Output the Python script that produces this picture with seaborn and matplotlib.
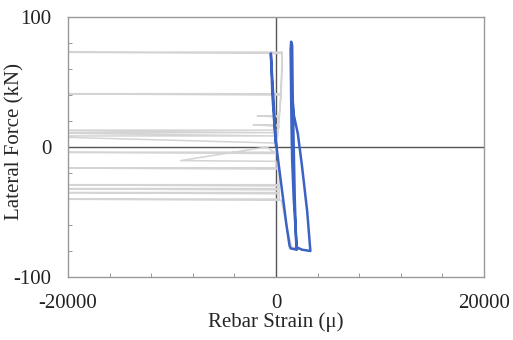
import numpy as np
import pandas as pd
import matplotlib.pyplot as plt
import seaborn as sns
from matplotlib.ticker import MultipleLocator

# Blue gauge: hysteresis path (strain in micro, force in kN)
blue_strain = [0, -200, -450, -500, -350, -100, 200, 600, 1000, 1300, 1400, 2000,
               1700, 1550, 1500, 1450, 1400, 1450, 1550, 1600, 1700, 1800, 1950,
               2500, 3300, 3000, 2500, 2100, 1700, 1550]
blue_force = [0, 30, 65, 72, 40, 10, -10, -35, -60, -76, -78, -79,
              -40, -10, 10, 40, 75, 81, 78, 40, 0, -40, -77,
              -79, -80, -50, -15, 10, 25, 40]

# Gray gauge: readings that jump off-scale to the left
gray_strain = [0, 300, 500, 600, -25000, 600, 500, -25000, 500, 300, -1800, 300,
               200, -2200, 300, 200, -25000, 200, -25000, 200, -25000, 100,
               0, -25000, 0, -900, -9200, 0, 0, -25000, 300, 300, -25000, 300,
               300, -25000, 300, 300, -25000, 300, 300, -25000, 500, 1000, 1500, 2500]
gray_force = [0, 20, 50, 73, 73, 72, 41, 41, 40, 24, 24, 23,
              17, 17, 16, 13, 13, 11, 11, 8.5, 8.5, 3,
              -4, -4, -5, 0, -10.5, -11, -16, -16, -17, -29, -29, -30,
              -32, -32, -33, -35, -35, -36, -40, -40, -41, -60, -77, -79]

plt.rcParams['figure.dpi'] = 100
sns.set_style('white')
plt.rcParams['font.family'] = ['Liberation Serif', 'DejaVu Serif']
plt.rcParams['axes.unicode_minus'] = False

fig = plt.figure(figsize=(5.13, 3.40))
ax = fig.add_axes([0.1326, 0.1853, 0.811, 0.7647])

ax.axhline(0, color='#555555', lw=1, zorder=1)
ax.axvline(0, color='#555555', lw=1, zorder=1)

gray = pd.DataFrame({'strain': gray_strain, 'force': gray_force})
blue = pd.DataFrame({'strain': blue_strain, 'force': blue_force})
sns.lineplot(data=gray, x='strain', y='force', sort=False, estimator=None,
             color='#d4d4d4', lw=1.1, ax=ax, zorder=2)
sns.lineplot(data=blue, x='strain', y='force', sort=False, estimator=None,
             color='#3b63c4', lw=1.8, ax=ax, zorder=3)

ax.set_xlim(-20000, 20000)
ax.set_ylim(-100, 100)
ax.set_xticks([-20000, 0, 20000])
ax.set_yticks([-100, 0, 100])
ax.xaxis.set_minor_locator(MultipleLocator(4000))
ax.yaxis.set_minor_locator(MultipleLocator(20))
ax.tick_params(which='major', length=0, labelsize=15, colors='#222222')
ax.tick_params(axis='x', which='major', pad=12)
ax.tick_params(axis='y', which='major', pad=12)
ax.tick_params(which='minor', direction='in', length=3, color='#888888',
               bottom=True, left=True)

for s in ax.spines.values():
    s.set_color('#999999')
    s.set_linewidth(1)

ax.set_xlabel('Rebar Strain (\u03bc)', fontsize=15, labelpad=0)
ax.set_ylabel('Lateral Force (kN)', fontsize=15)
ax.yaxis.set_label_coords(-0.105, 0.52)

fig.savefig('out.png', dpi=100)
